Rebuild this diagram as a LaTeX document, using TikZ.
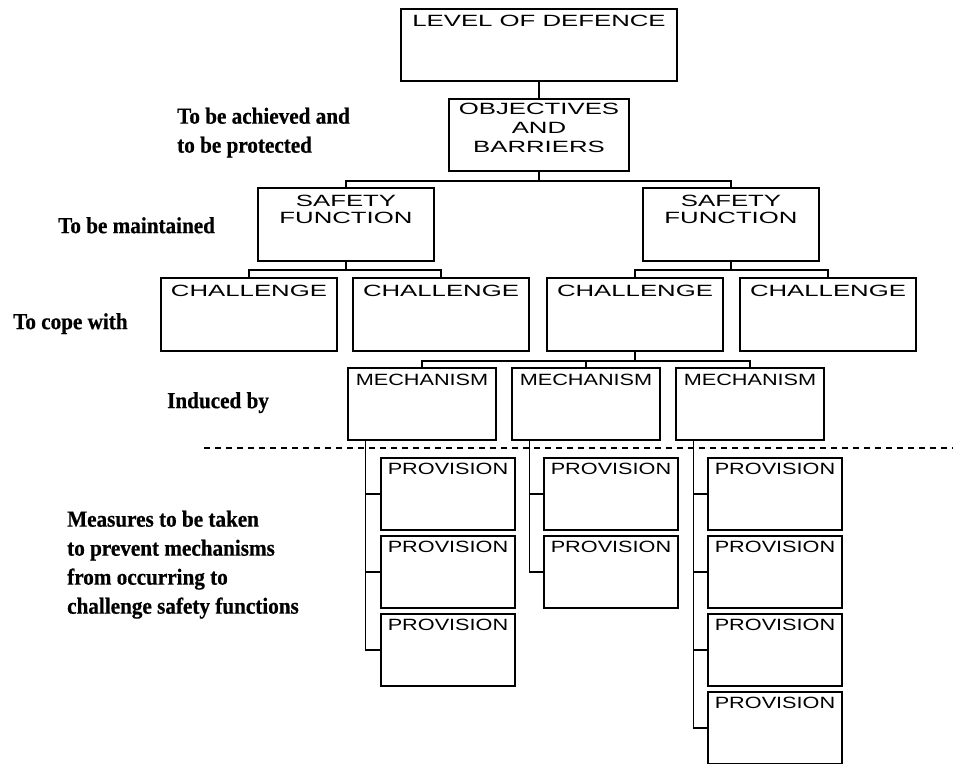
\documentclass[tikz,border=0pt]{standalone}
\usepackage{fontspec}
\setmainfont{Liberation Serif}
\newfontfamily\sidefont[FakeStretch=0.92,FakeBold=0.6]{Liberation Serif Bold}
\newfontfamily\wideA[FakeStretch=1.58]{Liberation Sans}
\newfontfamily\wideB[FakeStretch=1.33]{Liberation Sans}
\begin{document}
\begin{tikzpicture}[x=1pt,y=-1pt,
  ln/.style={line width=1.5pt},
  bx/.style={draw, line width=1.5pt, inner sep=0pt, minimum width=#1},
  bigbox/.style={bx=176pt, minimum height=73pt},
  mbox/.style={bx=148pt, minimum height=72pt},
  pbox/.style={bx=134pt, minimum height=72pt},
  tA/.style={anchor=north, inner sep=0pt, align=center, font=\wideA\fontsize{16.3}{16.5}\selectfont},
  tB/.style={anchor=north, inner sep=0pt, align=center, font=\wideB\fontsize{16.3}{16.5}\selectfont},
  side/.style={anchor=north west, inner sep=0pt, align=left, font=\sidefont\fontsize{23}{29}\selectfont},
  dashln/.style={line width=1.5pt, dash pattern=on 6pt off 5pt}
]
\useasboundingbox (0,0) rectangle (953,763);

% top boxes
\node[bx=276pt, minimum height=72pt] (lod) at (539,45) {};
\node[tA] (lodT) at ([yshift=-7pt]lod.north) {LEVEL OF DEFENCE};
\node[bx=180pt, minimum height=72pt] (obj) at (539,135) {};
\node[tA, font=\wideA\fontsize{16.3}{19}\selectfont] (objT) at ([yshift=-4.5pt]obj.north) {OBJECTIVES\\AND\\BARRIERS};

% safety functions
\node[bigbox] (sf1) at (346,224.5) {};
\node[tA] (sf1T) at ([yshift=-8pt]sf1.north) {SAFETY\\FUNCTION};
\node[bigbox] (sf2) at (731,224.5) {};
\node[tA] (sf2T) at ([yshift=-8pt]sf2.north) {SAFETY\\FUNCTION};

% challenges
\node[bigbox] (ch1) at (249,314.5) {};
\node[tA] (ch1T) at ([yshift=-8pt]ch1.north) {CHALLENGE};
\node[bigbox] (ch2) at (441,314.5) {};
\node[tA] (ch2T) at ([yshift=-8pt]ch2.north) {CHALLENGE};
\node[bigbox] (ch3) at (635,314.5) {};
\node[tA] (ch3T) at ([yshift=-8pt]ch3.north) {CHALLENGE};
\node[bigbox] (ch4) at (828,314.5) {};
\node[tA] (ch4T) at ([yshift=-8pt]ch4.north) {CHALLENGE};

% mechanisms
\node[mbox] (m1) at (422,404) {};
\node[tB] (m1T) at ([yshift=-7pt]m1.north) {MECHANISM};
\node[mbox] (m2) at (586,404) {};
\node[tB] (m2T) at ([yshift=-7pt]m2.north) {MECHANISM};
\node[mbox] (m3) at (750,404) {};
\node[tB] (m3T) at ([yshift=-7pt]m3.north) {MECHANISM};

% provisions
\foreach \n/\x/\y in {p11/448/494, p12/448/572, p13/448/650,
                      p21/611/494, p22/611/572,
                      p31/775/494, p32/775/572, p33/775/650, p34/775/728}{
  \node[pbox] (\n) at (\x,\y) {};
  \node[tB] (\n T) at ([yshift=-6pt]\n.north) {PROVISION};
}

% connectors
\draw[ln] (lod.south) -- (obj.north);
\draw[ln] (obj.south) -- ++(0,9) coordinate (bA);
\draw[ln] (sf1.north) |- (bA) -| (sf2.north);

\draw[ln] (sf1.south) -- ++(0,8) coordinate (bB);
\draw[ln] (ch1.north) |- (bB) -| (ch2.north);
\draw[ln] (sf2.south) -- ++(0,8) coordinate (bC);
\draw[ln] (ch3.north) |- (bC) -| (ch4.north);

\draw[ln] (ch3.south) -- ++(0,9) coordinate (bD);
\draw[ln] (m1.north) |- (bD) -| (m3.north);
\draw[ln] (m2.north) -- (m2.north |- bD);

\coordinate (t1) at ([xshift=18pt]m1.south west);
\coordinate (t2) at ([xshift=18pt]m2.south west);
\coordinate (t3) at ([xshift=18pt]m3.south west);
\draw[ln] (t1) |- (p13.west);
\draw[ln] (t1 |- p11.west) -- (p11.west);
\draw[ln] (t1 |- p12.west) -- (p12.west);
\draw[ln] (t2) |- (p22.west);
\draw[ln] (t2 |- p21.west) -- (p21.west);
\draw[ln] (t3) |- (p34.west);
\draw[ln] (t3 |- p31.west) -- (p31.west);
\draw[ln] (t3 |- p32.west) -- (p32.west);
\draw[ln] (t3 |- p33.west) -- (p33.west);

% dashed separator
\coordinate (dL) at (204,448);
\coordinate (dR) at (953,448);
\draw[dashln] (dL) -- (dR);

% side labels
\node[side] (s1) at (177,107.5) {To be achieved and\\to be protected};
\node[side] (s2) at (58,217) {To be maintained};
\node[side] (s3) at (13,313) {To cope with};
\node[side] (s4) at (167,392) {Induced by};
\node[side] (s5) at (67,510.5) {Measures to be taken\\to prevent mechanisms\\from occurring to\\challenge safety functions};
\end{tikzpicture}
\end{document}
